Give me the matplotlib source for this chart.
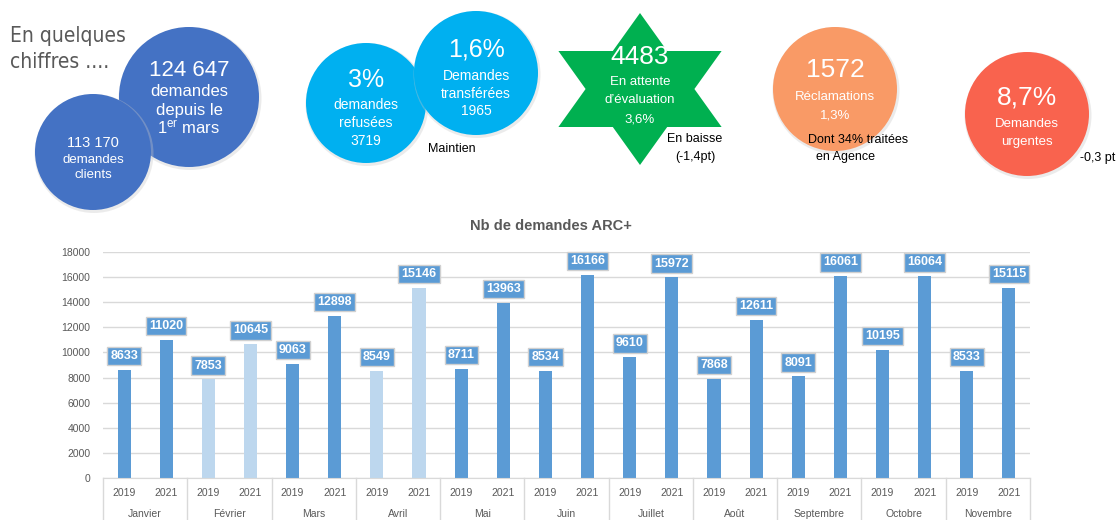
import matplotlib
matplotlib.use("Agg")
import matplotlib.pyplot as plt
import matplotlib.transforms as mtransforms
from matplotlib.patches import Circle, Polygon
import numpy as np

plt.rcParams['font.family'] = ['Liberation Sans', 'DejaVu Sans']
plt.rcParams['mathtext.default'] = 'regular'

# chart data
months = ['Janvier', 'Février', 'Mars', 'Avril', 'Mai', 'Juin', 'Juillet',
          'Août', 'Septembre', 'Octobre', 'Novembre']
years = ['2019', '2021']
vals_2019 = [8633, 7853, 9063, 8549, 8711, 8534, 9610, 7868, 8091, 10195, 8533]
vals_2021 = [11020, 10645, 12898, 15146, 13963, 16166, 15972, 12611, 16061, 16064, 15115]
light_months = ['Février', 'Avril']
yticks = list(range(0, 18001, 2000))
title = 'Nb de demandes ARC+'

DARK = '#5B9BD5'
LIGHT = '#BDD7EE'
GRID = '#D9D9D9'
TXT = '#595959'

fig = plt.figure(figsize=(11.2, 5.2), dpi=100)

# ---- infographic layer (pixel coords) ----
ov = fig.add_axes([0, 0, 1, 1], zorder=0)
ov.set_xlim(0, 1120)
ov.set_ylim(520, 0)
ov.axis('off')

def bubble(cx, cy, r, color):
    # soft shadow, a bit to the lower right
    ov.add_patch(Circle((cx + 1, cy + 1.5), r + 1.5, fc='#C8C8C8', ec='none', alpha=0.35))
    ov.add_patch(Circle((cx, cy), r, fc=color, ec='none'))

def txt(x, y, s, size, color='white', **kw):
    ov.text(x, y, s, fontsize=size, color=color, ha=kw.pop('ha', 'center'),
            va=kw.pop('va', 'center'), **kw)

for yy, s in ((36, 'En quelques'), (62, 'chiffres ....')):
    ov.text(10, yy, s, fontsize=15, color='#595959', family='DejaVu Sans',
            fontstretch='condensed', va='center')

# big dark-blue circles
bubble(189, 97, 70, '#4472C4')
txt(189, 71, '124 647', 16)
txt(189, 92, 'demandes', 12)
txt(189, 110, 'depuis le', 12)
txt(189, 128, '1$^{er}$ mars', 12)

bubble(93, 152, 58, '#4472C4')
txt(93, 143, '113 170', 10.5)
txt(93, 160, 'demandes', 9.5)
txt(93, 175, 'clients', 9.5)

# light blue circles
bubble(366, 103, 60, '#00B0F0')
txt(366, 80, '3%', 18)
txt(366, 105, 'demandes', 10)
txt(366, 123, 'refusées', 10)
txt(366, 141, '3719', 10)

bubble(476, 73, 62, '#00B0F0')
txt(476, 50, '1,6%', 18)
txt(476, 76, 'Demandes', 10)
txt(476, 94, 'transférées', 10)
txt(476, 111, '1965', 10)
txt(452, 149, 'Maintien', 9, color='black')

# green star
scx, scy, R = 640, 89, 76
ang = np.deg2rad(90 + 30 * np.arange(12))
rad = np.where(np.arange(12) % 2 == 0, R, R / np.sqrt(3))
pts = np.column_stack([scx + 1.24 * rad * np.cos(ang), scy - rad * np.sin(ang)])
ov.add_patch(Polygon(pts, closed=True, fc='#00B050', ec='none'))
txt(640, 57, '4483', 19)
txt(640, 82, 'En attente', 9.5)
txt(640, 100, 'd\u2019évaluation', 9.5)
txt(640, 119, '3,6%', 9.5)
txt(695, 139, 'En baisse', 9, color='black')
txt(695, 157, '(-1,4pt)', 9, color='black')

# orange circle
bubble(835, 89, 62, '#F99A66')
txt(835, 70, '1572', 19)
txt(835, 97, 'Réclamations', 9.5)
txt(835, 116, '1,3%', 9.5)
txt(858, 140, 'Dont 34% traitées', 9, color='black')
txt(845, 157, 'en Agence', 9, color='black')

# red circle
bubble(1027, 114, 62, '#F9634E')
txt(1027, 97, '8,7%', 19)
txt(1027, 124, 'Demandes', 9.5)
txt(1027, 142, 'urgentes', 9.5)
txt(1080, 158, '-0,3 pt', 9, color='black', ha='left')

# ---- bar chart ----
L, Rr, B, T = 103, 1030, 478, 252
ax = fig.add_axes([L / 1120, (520 - B) / 520, (Rr - L) / 1120, (B - T) / 520], zorder=2)
ax.patch.set_alpha(0)

n = len(months)
bw = 0.155
for i, m in enumerate(months):
    c = LIGHT if m in light_months else DARK
    for off, v in ((0.25, vals_2019[i]), (0.75, vals_2021[i])):
        ax.bar(i + off, v, width=bw, color=c, zorder=2)
        ax.annotate(str(v), (i + off, v), xytext=(0, 10), textcoords='offset points',
                    ha='center', va='center', fontsize=9, fontweight='bold', color='white',
                    bbox=dict(boxstyle='square,pad=0.25', fc=DARK, ec='#D0D0D0', lw=1),
                    zorder=3)

ax.set_xlim(0, n)
ax.set_ylim(0, 18000)
ax.set_yticks(yticks)
ax.set_yticklabels([str(t) for t in yticks], fontsize=7.5, color=TXT)
ax.tick_params(axis='y', length=0, pad=9)
ax.set_xticks([])
ax.grid(axis='y', color=GRID, lw=1, zorder=0)
for s in ('top', 'right', 'left'):
    ax.spines[s].set_visible(False)
ax.spines['bottom'].set_color(GRID)

trans = mtransforms.blended_transform_factory(ax.transData, ax.transAxes)
ybot = -(520 - B) / (B - T)
for k in range(n + 1):
    ax.plot([k, k], [0, ybot], transform=trans, color=GRID, lw=1, clip_on=False)
for i, m in enumerate(months):
    for off, yr in zip((0.25, 0.75), years):
        ax.text(i + off, -15 / (B - T), yr, transform=trans, ha='center', va='center',
                fontsize=7.5, color=TXT)
    ax.text(i + 0.5, -36 / (B - T), m, transform=trans, ha='center', va='center',
            fontsize=7.5, color=TXT)

ov.text(551, 226, title, fontsize=10.5, fontweight='bold', color=TXT,
        ha='center', va='center')

fig.savefig('out.png', dpi=100)
